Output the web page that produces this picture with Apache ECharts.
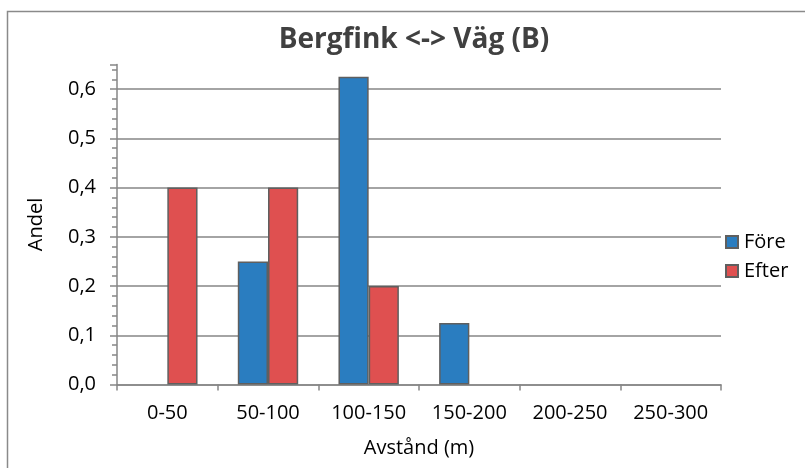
<!DOCTYPE html>
<html>
<head>
<meta charset="utf-8">
<script src="https://cdn.jsdelivr.net/npm/echarts@6/dist/echarts.min.js"></script>
<style>
  html, body { margin: 0; padding: 0; background: #fff; }
  #chart { width: 805px; height: 468px; }
</style>
</head>
<body>
<div id="chart"></div>
<script>
// data
const categories = ['0-50', '50-100', '100-150', '150-200', '200-250', '250-300'];
const fore = [0, 0.25, 0.625, 0.125, 0, 0];
const efter = [0.4, 0.4, 0.2, 0, 0, 0];

// zero-height bars are not drawn in the original
const noZero = arr => arr.map(v => (v === 0 ? null : v));

const chart = echarts.init(document.getElementById('chart'));
const font = '"Open Sans", "Noto Sans", sans-serif';

const option = {
  animation: false,
  graphic: [{
    type: 'rect',
    shape: { x: 7.5, y: 11.5, width: 900, height: 600 },
    style: { fill: 'none', stroke: '#8a8a8a', lineWidth: 1.5 },
    silent: true
  }],
  title: {
    text: 'Bergfink <-> Väg (B)',
    left: 409,
    textAlign: 'center',
    top: 21,
    textStyle: { fontFamily: font, fontSize: 28, fontWeight: 'bold', color: '#404040' }
  },
  legend: {
    orient: 'vertical',
    left: 720,
    top: 227,
    itemWidth: 12,
    itemHeight: 12,
    itemGap: 9,
    icon: 'rect',
    textStyle: { fontFamily: font, fontSize: 20, color: '#000', padding: [0, 0, 0, 1] },
    data: ['Före', 'Efter']
  },
  grid: { left: 117, right: 84, top: 64.5, bottom: 83.5, containLabel: false },
  xAxis: {
    type: 'category',
    data: categories,
    name: 'Avstånd (m)',
    nameLocation: 'middle',
    nameGap: 54,
    nameTextStyle: { fontFamily: font, fontSize: 20, color: '#000' },
    axisLine: { lineStyle: { color: '#868686', width: 1.5 } },
    axisTick: { show: true, length: 6, lineStyle: { color: '#868686', width: 1.5 } },
    axisLabel: { fontFamily: font, fontSize: 20, color: '#000', margin: 19 }
  },
  yAxis: {
    type: 'value',
    min: 0,
    max: 0.65,
    interval: 0.1,
    name: 'Andel',
    nameLocation: 'middle',
    nameGap: 71,
    nameTextStyle: { fontFamily: font, fontSize: 20, color: '#000' },
    axisLine: { show: true, lineStyle: { color: '#868686', width: 1.5 } },
    axisTick: { show: true, length: 7, lineStyle: { color: '#868686', width: 1.5 } },
    minorTick: { show: true, splitNumber: 5, length: 5, lineStyle: { color: '#868686', width: 1.5 } },
    splitLine: { show: true, showMaxLine: false, lineStyle: { color: '#868686', width: 1.5 } },
    axisLabel: {
      fontFamily: font, fontSize: 20, color: '#000', margin: 21,
      showMaxLabel: false,
      formatter: v => v.toFixed(1).replace('.', ',')
    }
  },
  series: [
    {
      name: 'Före',
      type: 'bar',
      data: noZero(fore),
      barWidth: '30%',
      barGap: '0%',
      itemStyle: { color: '#2a7dc0', borderColor: '#5f5f5f', borderWidth: 1.5 }
    },
    {
      name: 'Efter',
      type: 'bar',
      data: noZero(efter),
      barWidth: '30%',
      barGap: '0%',
      itemStyle: { color: '#df5050', borderColor: '#5f5f5f', borderWidth: 1.5 }
    }
  ]
};

chart.setOption(option);
</script>
</body>
</html>
